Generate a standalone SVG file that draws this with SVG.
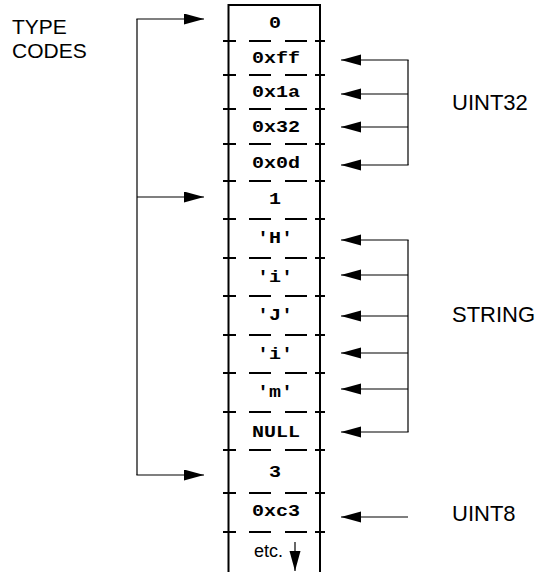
<svg xmlns="http://www.w3.org/2000/svg" width="540" height="572" viewBox="0 0 540 572">
<style>
.bg{fill:#fff}
.b{stroke:#000;stroke-width:2;fill:none}
.sep{stroke:#000;stroke-width:2;fill:none;stroke-dasharray:13 13 22 14 22 8 10}
.c{stroke:#000;stroke-width:1.2;fill:none}
.a{marker-end:url(#ah)}
.m{font-family:"Liberation Mono","Courier New",monospace;font-weight:bold;font-size:16px;text-anchor:middle;fill:#000}
.s{font-family:"Liberation Sans",Arial,sans-serif;font-size:22px;fill:#000}
.t{font-family:"Liberation Sans",Arial,sans-serif;font-size:21px;fill:#000}
.e{font-family:"Liberation Sans",Arial,sans-serif;font-size:18px;fill:#000}
</style>
<defs>
<marker id="ah" markerUnits="userSpaceOnUse" markerWidth="21" markerHeight="12" refX="20" refY="5.5" orient="auto">
<path d="M0,0 L20,5.5 L0,11 z" fill="#000"/>
</marker>
</defs>
<rect class="bg" x="0" y="0" width="540" height="572"/>
<g id="column">
<path class="b" d="M228.5,572 V5 H320 V572"/>
<line class="sep" x1="223" y1="41" x2="325" y2="41"/>
<line class="sep" x1="223" y1="75" x2="325" y2="75"/>
<line class="sep" x1="223" y1="109" x2="325" y2="109"/>
<line class="sep" x1="223" y1="144" x2="325" y2="144"/>
<line class="sep" x1="223" y1="181" x2="325" y2="181"/>
<line class="sep" x1="223" y1="219" x2="325" y2="219"/>
<line class="sep" x1="223" y1="258" x2="325" y2="258"/>
<line class="sep" x1="223" y1="296" x2="325" y2="296"/>
<line class="sep" x1="223" y1="335" x2="325" y2="335"/>
<line class="sep" x1="223" y1="373" x2="325" y2="373"/>
<line class="sep" x1="223" y1="412" x2="325" y2="412"/>
<line class="sep" x1="223" y1="450" x2="325" y2="450"/>
<line class="sep" x1="223" y1="493" x2="325" y2="493"/>
<line class="sep" x1="223" y1="532" x2="325" y2="532"/>
</g>
<g id="cell-0"><text class="m" x="275" y="28" textLength="12" lengthAdjust="spacingAndGlyphs">0</text></g>
<g id="cell-0xff"><text class="m" x="276" y="63" textLength="48" lengthAdjust="spacingAndGlyphs">0xff</text></g>
<g id="cell-0x1a"><text class="m" x="276" y="97" textLength="48" lengthAdjust="spacingAndGlyphs">0x1a</text></g>
<g id="cell-0x32"><text class="m" x="276" y="132" textLength="48" lengthAdjust="spacingAndGlyphs">0x32</text></g>
<g id="cell-0x0d"><text class="m" x="276" y="168" textLength="48" lengthAdjust="spacingAndGlyphs">0x0d</text></g>
<g id="cell-1"><text class="m" x="275" y="204" textLength="12" lengthAdjust="spacingAndGlyphs">1</text></g>
<g id="cell-H"><text class="m" x="275" y="243" textLength="36" lengthAdjust="spacingAndGlyphs">'H'</text></g>
<g id="cell-i1"><text class="m" x="275" y="282" textLength="36" lengthAdjust="spacingAndGlyphs">'i'</text></g>
<g id="cell-J"><text class="m" x="275" y="320" textLength="36" lengthAdjust="spacingAndGlyphs">'J'</text></g>
<g id="cell-i2"><text class="m" x="275" y="359" textLength="36" lengthAdjust="spacingAndGlyphs">'i'</text></g>
<g id="cell-m"><text class="m" x="275" y="397" textLength="36" lengthAdjust="spacingAndGlyphs">'m'</text></g>
<g id="cell-null"><text class="m" x="276" y="437" textLength="48" lengthAdjust="spacingAndGlyphs">NULL</text></g>
<g id="cell-3"><text class="m" x="275" y="477" textLength="12" lengthAdjust="spacingAndGlyphs">3</text></g>
<g id="cell-0xc3"><text class="m" x="276" y="516" textLength="48" lengthAdjust="spacingAndGlyphs">0xc3</text></g>
<g id="cell-etc"><text class="e" x="254" y="557">etc.</text></g>
<g id="label-type-codes"><text class="t" x="12" y="34">TYPE</text><text class="t" x="12" y="58">CODES</text></g>
<g id="label-uint32"><text class="s" x="452" y="110">UINT32</text></g>
<g id="label-string"><text class="s" x="452" y="322">STRING</text></g>
<g id="label-uint8"><text class="s" x="452" y="521">UINT8</text></g>
<g id="connectors">
<line class="c" x1="137" y1="19" x2="137" y2="475"/>
<line class="c a" x1="136.4" y1="19" x2="204" y2="19"/>
<line class="c a" x1="137" y1="197" x2="204" y2="197"/>
<line class="c a" x1="136.4" y1="475" x2="204" y2="475"/>
<line class="c" x1="408" y1="60" x2="408" y2="165"/>
<line class="c a" x1="408.6" y1="60" x2="341" y2="60"/>
<line class="c a" x1="408" y1="94" x2="341" y2="94"/>
<line class="c a" x1="408" y1="127" x2="341" y2="127"/>
<line class="c a" x1="408.6" y1="165" x2="341" y2="165"/>
<line class="c" x1="408" y1="240" x2="408" y2="432"/>
<line class="c a" x1="408.6" y1="240" x2="341" y2="240"/>
<line class="c a" x1="408" y1="275" x2="341" y2="275"/>
<line class="c a" x1="408" y1="316" x2="341" y2="316"/>
<line class="c a" x1="408" y1="353" x2="341" y2="353"/>
<line class="c a" x1="408" y1="389" x2="341" y2="389"/>
<line class="c a" x1="408.6" y1="432" x2="341" y2="432"/>
<line class="c a" x1="408" y1="517" x2="341" y2="517"/>
<line class="c a" x1="295" y1="542" x2="295" y2="571"/>
</g>
</svg>
